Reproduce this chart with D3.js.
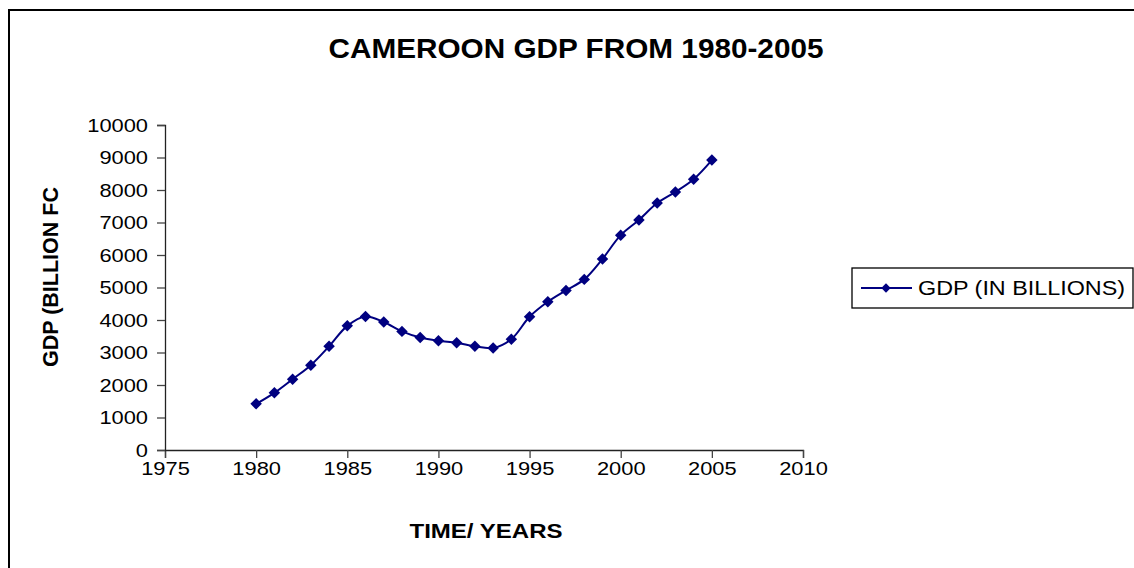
<!DOCTYPE html>
<html>
<head>
<meta charset="utf-8">
<script src="https://cdn.jsdelivr.net/npm/d3@7"></script>
<style>
  body { margin: 0; background: #fff; }
  text { font-family: "Liberation Sans", Arial, sans-serif; }
</style>
</head>
<body>
<div id="chart"></div>
<script>
const years = [1980, 1981, 1982, 1983, 1984, 1985, 1986, 1987, 1988, 1989, 1990, 1991, 1992,
  1993, 1994, 1995, 1996, 1997, 1998, 1999, 2000, 2001, 2002, 2003, 2004, 2005];
const gdp = [1420, 1760, 2180, 2610, 3190, 3820, 4110, 3940, 3650, 3460, 3360, 3300, 3190,
  3140, 3410, 4100, 4560, 4910, 5250, 5880, 6610, 7080, 7600, 7940, 8330, 8920];
const xTicks = [1975, 1980, 1985, 1990, 1995, 2000, 2005, 2010];
const yTicks = [0, 1000, 2000, 3000, 4000, 5000, 6000, 7000, 8000, 9000, 10000];
const seriesName = "GDP (IN BILLIONS)";

const W = 1134, H = 568;
const plot = { left: 165, right: 803, top: 125, bottom: 450 };
const navy = "#000080";

const svg = d3.select("#chart").append("svg")
  .attr("width", W)
  .attr("height", H);

// outer frame (right and bottom edges fall outside the picture)
svg.append("rect")
  .attr("x", 9).attr("y", 10)
  .attr("width", 1200).attr("height", 700)
  .attr("fill", "none").attr("stroke", "#000").attr("stroke-width", 2);

const x = d3.scaleLinear().domain([1975, 2010]).range([plot.left, plot.right]);
const y = d3.scaleLinear().domain([0, 10000]).range([plot.bottom, plot.top]);

// stretch text a bit wider, like the original rendering
function widen(sel, k) {
  sel.each(function () {
    const w = this.getComputedTextLength();
    this.setAttribute("textLength", w * k);
    this.setAttribute("lengthAdjust", "spacingAndGlyphs");
  });
}

const xAxis = svg.append("g")
  .attr("transform", `translate(0,${plot.bottom})`)
  .call(d3.axisBottom(x).tickValues(xTicks).tickFormat(d3.format("d")).tickSize(8).tickPadding(4));
const yAxis = svg.append("g")
  .attr("transform", `translate(${plot.left},0)`)
  .call(d3.axisLeft(y).tickValues(yTicks).tickFormat(d3.format("d")).tickSize(8).tickPadding(9));

[xAxis, yAxis].forEach(function (a) {
  a.select(".domain").attr("stroke", "#222").attr("stroke-width", 1.3);
  a.selectAll(".tick line").attr("stroke", "#444").attr("stroke-width", 1.3);
  a.selectAll(".tick text")
    .attr("fill", "#000")
    .style("font-size", "19px")
    .style("font-family", '"Liberation Sans", Arial, sans-serif');
  widen(a.selectAll(".tick text"), 1.15);
});

// the line, smoothed
const line = d3.line()
  .x((d, i) => x(years[i]))
  .y(d => y(d))
  .curve(d3.curveCatmullRom.alpha(0.5));

svg.append("path")
  .datum(gdp)
  .attr("d", line)
  .attr("fill", "none")
  .attr("stroke", navy)
  .attr("stroke-width", 2);

const diamond = d3.symbol().type(d3.symbolSquare).size(66);
svg.selectAll(".pt")
  .data(gdp)
  .join("path")
  .attr("class", "pt")
  .attr("d", diamond)
  .attr("transform", (d, i) => `translate(${x(years[i])},${y(d)}) rotate(45)`)
  .attr("fill", navy);

// title
svg.append("text")
  .attr("x", 576).attr("y", 58)
  .attr("text-anchor", "middle")
  .attr("textLength", 495).attr("lengthAdjust", "spacingAndGlyphs")
  .style("font-size", "28px").style("font-weight", "bold")
  .text("CAMEROON GDP FROM 1980-2005");

// axis titles
svg.append("text")
  .attr("transform", "translate(58,277) rotate(-90)")
  .attr("text-anchor", "middle")
  .attr("textLength", 180).attr("lengthAdjust", "spacingAndGlyphs")
  .style("font-size", "22px").style("font-weight", "bold")
  .text("GDP (BILLION FC");

svg.append("text")
  .attr("x", 486).attr("y", 538)
  .attr("text-anchor", "middle")
  .attr("textLength", 153).attr("lengthAdjust", "spacingAndGlyphs")
  .style("font-size", "21px").style("font-weight", "bold")
  .text("TIME/ YEARS");

// legend
const lg = svg.append("g").attr("transform", "translate(852,268)");
lg.append("rect")
  .attr("width", 281).attr("height", 40)
  .attr("fill", "#fff").attr("stroke", "#000").attr("stroke-width", 1.3);
lg.append("line")
  .attr("x1", 9).attr("x2", 60).attr("y1", 20).attr("y2", 20)
  .attr("stroke", navy).attr("stroke-width", 2);
lg.append("path")
  .attr("d", d3.symbol().type(d3.symbolSquare).size(44))
  .attr("transform", "translate(34,20) rotate(45)")
  .attr("fill", navy);
lg.append("text")
  .attr("x", 66).attr("y", 27)
  .attr("textLength", 207).attr("lengthAdjust", "spacingAndGlyphs")
  .style("font-size", "20px")
  .text(seriesName);
</script>
</body>
</html>
